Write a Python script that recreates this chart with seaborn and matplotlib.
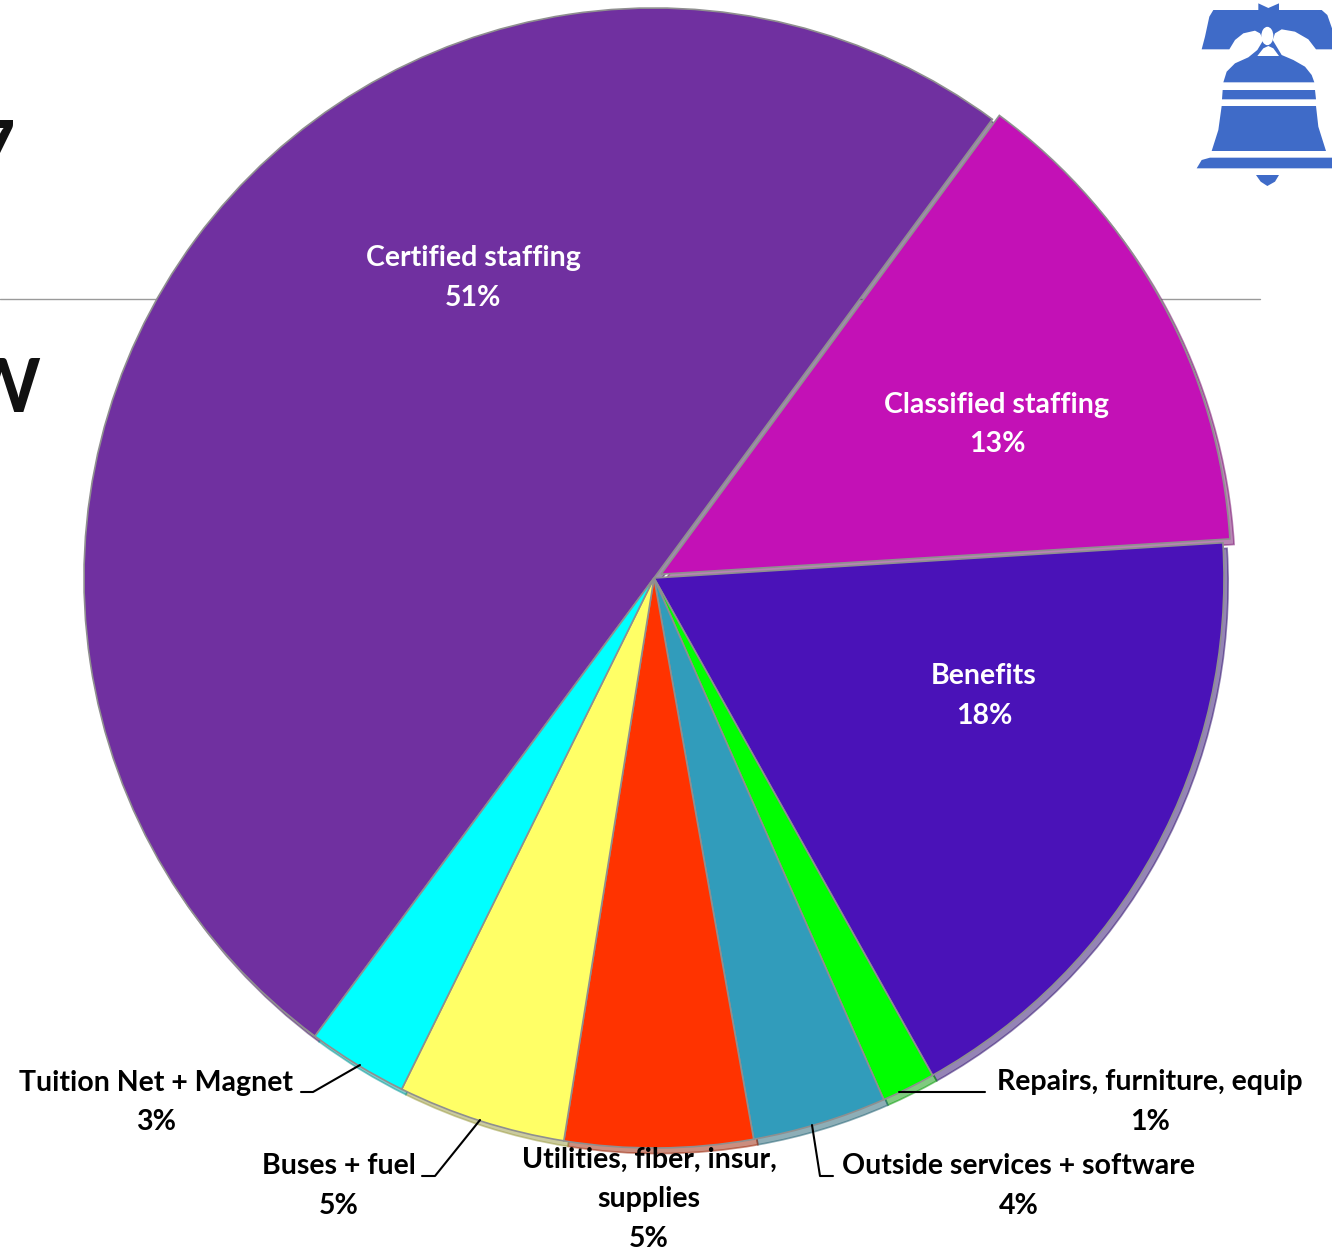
import matplotlib
matplotlib.use("Agg")
import matplotlib.pyplot as plt
import seaborn as sns
from matplotlib.patches import Polygon, Ellipse

# slice sizes, the printed labels round differently
names = ["Certified staffing", "Classified staffing", "Benefits", "Repairs, furniture, equip",
         "Outside services + software", "Utilities, fiber, insur,\nsupplies", "Buses + fuel", "Tuition Net + Magnet"]
sizes = [49.25, 13.7, 17.6, 1.5, 3.75, 5.25, 4.7, 2.8]
shown = ["51%", "13%", "18%", "1%", "4%", "5%", "5%", "3%"]
colors = ["#7030A0", "#C311B6", "#4A12B8", "#00FF00", "#319CBB", "#FF3300", "#FFFF66", "#00FFFF"]
explode = [0, 8, 0, 0, 0, 0, 0, 0]

W, H = 1332, 1251
sns.set_theme(style="white")
plt.rcParams["font.family"] = ["Lato", "DejaVu Sans"]

fig = plt.figure(figsize=(W / 100, H / 100), dpi=100)
ax = fig.add_axes([0, 0, 1, 1])


def up(y):
    return H - y


# slide bits behind the chart
ax.plot([0, 1260], [up(299), up(299)], color="#9a9a9a", lw=1, zorder=0)
ax.text(15, up(174), "7", fontsize=54, fontweight="bold", color="#111111", ha="right", va="baseline")
ax.text(40, up(412), "W", fontsize=54, fontweight="bold", color="#111111", ha="right", va="baseline")

ax.pie(sizes, colors=sns.color_palette(colors), explode=explode, startangle=233.5, counterclock=False,
       center=(654, up(578)), radius=570, shadow={"ox": 3, "oy": -4, "shade": 0.4},
       wedgeprops={"edgecolor": "#8f8f8f", "linewidth": 1.2})

ax.set_xlim(0, W)
ax.set_ylim(0, H)
ax.set_aspect("equal")
ax.axis("off")

# label positions in picture pixels, (x, first line y, colour)
label_pos = [(473, 258, "white"), (997, 405, "white"), (984, 676, "white"), (1150, 1082, "black"),
             (1019, 1166, "black"), (649, 1160, "black"), (339, 1166, "black"), (156, 1083, "black")]
for name, pct, (x, y, c) in zip(names, shown, label_pos):
    ax.text(x, up(y), name + "\n" + pct, color=c, fontsize=20.5, fontweight="bold", ha="center", va="center",
            linespacing=1.38, transform=ax.transData) if False else None
    lines = (name + "\n" + pct).split("\n")
    for i, line in enumerate(lines):
        ax.text(x, up(y + i * 39.5), line, color=c, fontsize=20.5, fontweight="bold", ha="center", va="center")

# leader lines
leaders = [([301, 313, 360], [1092, 1092, 1065]),
           ([422, 435, 480], [1176, 1176, 1120]),
           ([812, 820, 833], [1125, 1176, 1176]),
           ([899, 985], [1092, 1092])]
for xs, ys in leaders:
    ax.plot(xs, [up(v) for v in ys], color="black", lw=1.5, zorder=5)

blue = "#3F6BC8"


def bell(x, y):
    return (1180 + x / 3, up(y / 3))


shapes = [
    [(235, 10), (265, 24), (297, 10), (297, 30), (425, 30), (442, 45), (456, 85), (456, 148), (408, 148),
     (385, 118), (345, 95), (305, 88), (285, 100), (278, 120), (305, 165), (340, 180), (375, 200), (395, 225),
     (403, 247), (130, 247), (140, 215), (165, 190), (205, 172), (232, 150), (250, 120), (240, 100), (225, 92),
     (190, 100), (165, 120), (148, 148), (65, 148), (75, 110), (88, 50), (100, 30), (235, 30)],
    [(128, 270), (405, 270), (408, 298), (126, 298)],
    [(125, 318), (408, 318), (415, 380), (438, 453), (95, 453), (115, 390)],
    [(50, 505), (65, 480), (90, 473), (456, 473), (456, 505)],
    [(228, 525), (297, 525), (285, 545), (262, 558), (242, 545)],
]
for s in shapes:
    ax.add_patch(Polygon([bell(*p) for p in s], closed=True, facecolor=blue, edgecolor="none", zorder=6))
ax.add_patch(Polygon([bell(*p) for p in [(232, 168), (250, 145), (265, 138), (280, 145), (297, 168)]],
                     closed=True, facecolor="white", edgecolor="none", zorder=7))
ax.add_patch(Ellipse(bell(262, 108), 36 / 3, 55 / 3, facecolor="white", edgecolor="none", zorder=7))

fig.savefig("out.png", dpi=100, facecolor="white")
